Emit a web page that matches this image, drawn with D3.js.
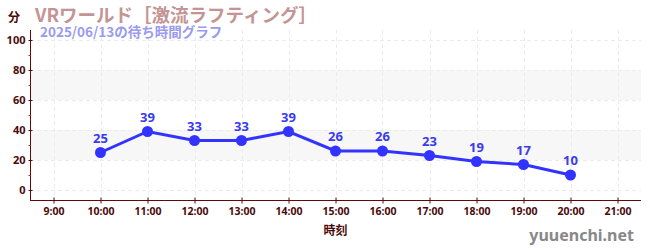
<!DOCTYPE html>
<html>
<head>
<meta charset="utf-8">
<script src="https://cdn.jsdelivr.net/npm/d3@7"></script>
<style>
    body { margin: 0; background: #fff; }
    svg { display: block; font-family: "Noto Sans CJK JP", "Noto Sans", sans-serif; }
</style>
</head>
<body>
<div id="chart"></div>
<script>
// data
const hours = [10, 11, 12, 13, 14, 15, 16, 17, 18, 19, 20];
const waits = [25, 39, 33, 33, 39, 26, 26, 23, 19, 17, 10];
const xTicks = [9, 10, 11, 12, 13, 14, 15, 16, 17, 18, 19, 20, 21];
const yTicks = [0, 20, 40, 60, 80, 100];
const yMinor = [10, 30, 50, 70, 90];
const bands = [[20, 40], [60, 80]];

const width = 650, height = 250;
const plotL = 30, plotR = 641, plotT = 30, plotB = 200;
const axisColor = '#5c0a0a';

const svg = d3.select('#chart').append('svg')
    .attr('width', width)
    .attr('height', height);

const x = d3.scaleLinear().domain([8.5, 21.5]).range([plotL, plotR]);
const y = d3.scaleLinear().domain([0, 100]).range([190, 40]);

// background bands
svg.append('g')
    .selectAll('rect')
    .data(bands)
    .enter().append('rect')
    .attr('x', plotL)
    .attr('width', plotR - plotL)
    .attr('y', d => y(d[1]))
    .attr('height', d => y(d[0]) - y(d[1]))
    .attr('fill', '#f7f7f7');

// grid
svg.append('g')
    .selectAll('line')
    .data(yTicks)
    .enter().append('line')
    .attr('x1', plotL).attr('x2', plotR)
    .attr('y1', d => y(d) + 0.5).attr('y2', d => y(d) + 0.5)
    .attr('stroke', '#ececec')
    .attr('stroke-dasharray', '4,3');

svg.append('g')
    .selectAll('line')
    .data(xTicks)
    .enter().append('line')
    .attr('x1', d => Math.round(x(d)) + 0.5).attr('x2', d => Math.round(x(d)) + 0.5)
    .attr('y1', plotT).attr('y2', plotB)
    .attr('stroke', '#ececec')
    .attr('stroke-dasharray', '4,3');

// y axis
const yAxis = svg.append('g')
    .attr('transform', `translate(${plotL + 0.5},0)`)
    .call(d3.axisLeft(y).tickValues(yTicks).tickSize(2).tickPadding(3));
yAxis.select('.domain').remove();
yAxis.append('line')
    .attr('y1', plotT).attr('y2', plotB)
    .attr('stroke', axisColor);
yAxis.selectAll('.tick line').attr('x1', -2).attr('x2', 2).attr('stroke', axisColor);
yAxis.selectAll('.tick text')
    .attr('fill', '#4a0a0a')
    .attr('font-size', 11)
    .attr('font-weight', 'bold')
    .attr('font-family', '"Noto Sans", sans-serif');

yAxis.append('g')
    .selectAll('line')
    .data(yMinor)
    .enter().append('line')
    .attr('x1', -2).attr('x2', 0)
    .attr('y1', d => y(d) + 0.5).attr('y2', d => y(d) + 0.5)
    .attr('stroke', '#dd2222');

// x axis
const xAxis = svg.append('g')
    .attr('transform', `translate(0,${plotB + 0.5})`)
    .call(d3.axisBottom(x).tickValues(xTicks).tickSize(3).tickPadding(4)
        .tickFormat(d => d + ':00'));
xAxis.select('.domain').remove();
xAxis.append('line')
    .attr('x1', plotL).attr('x2', plotR)
    .attr('stroke', axisColor);
xAxis.selectAll('.tick line').attr('y1', -3).attr('y2', 3).attr('stroke', axisColor);
xAxis.selectAll('.tick text')
    .attr('fill', '#4a0a0a')
    .attr('font-size', 10.5)
    .attr('font-weight', 'bold')
    .attr('font-family', '"Noto Sans", sans-serif');

// line + points
const pts = hours.map((h, i) => ({ h: h, v: waits[i] }));

svg.append('path')
    .datum(pts)
    .attr('fill', 'none')
    .attr('stroke', '#3333ff')
    .attr('stroke-width', 3)
    .attr('d', d3.line().x(d => x(d.h)).y(d => y(d.v)));

svg.append('g')
    .selectAll('circle')
    .data(pts)
    .enter().append('circle')
    .attr('cx', d => x(d.h))
    .attr('cy', d => y(d.v))
    .attr('r', 5.5)
    .attr('fill', '#3333ff');

svg.append('g')
    .selectAll('text')
    .data(pts)
    .enter().append('text')
    .attr('x', d => x(d.h))
    .attr('y', d => y(d.v) - 10)
    .attr('text-anchor', 'middle')
    .attr('fill', '#3a3aee')
    .attr('font-size', 13)
    .attr('font-weight', 'bold')
    .attr('font-family', '"Noto Sans", sans-serif')
    .text(d => d.v);

// titles
svg.append('text')
    .attr('x', 8).attr('y', 22)
    .attr('fill', '#4a0a0a')
    .attr('font-size', 12)
    .attr('font-weight', 'bold')
    .text('分');

svg.append('text')
    .attr('x', 35).attr('y', 22)
    .attr('fill', '#c49494')
    .attr('font-size', 18.5)
    .attr('font-weight', 'bold')
    .text('VRワールド［激流ラフティング］');

svg.append('text')
    .attr('x', 40).attr('y', 37)
    .attr('fill', '#9a9af0')
    .attr('font-size', 13.5)
    .attr('font-weight', 'bold')
    .text('2025/06/13の待ち時間グラフ');

svg.append('text')
    .attr('x', (plotL + plotR) / 2).attr('y', 235)
    .attr('text-anchor', 'middle')
    .attr('fill', '#4a0a0a')
    .attr('font-size', 12)
    .attr('font-weight', 'bold')
    .text('時刻');

svg.append('text')
    .attr('x', 634).attr('y', 241)
    .attr('text-anchor', 'end')
    .attr('fill', '#888')
    .attr('font-size', 16)
    .attr('font-weight', 'bold')
    .attr('font-family', '"Noto Sans", sans-serif')
    .text('yuuenchi.net');
</script>
</body>
</html>
